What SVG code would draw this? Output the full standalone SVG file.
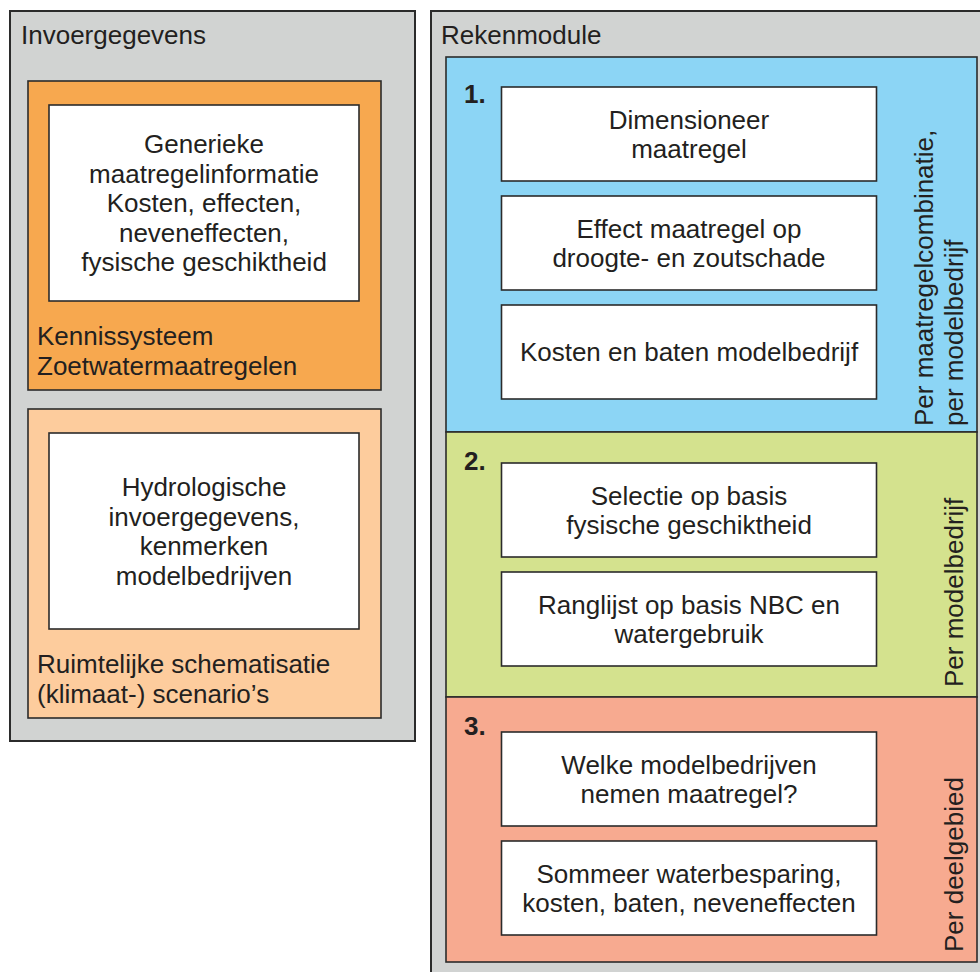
<svg xmlns="http://www.w3.org/2000/svg" width="980" height="972" viewBox="0 0 980 972">
<style>
text{font-family:"Liberation Sans",Arial,sans-serif;font-size:26px;fill:#231f20}
.c{text-anchor:middle}
.b{font-weight:bold}
.outer{fill:#d1d3d2;stroke:#2b2b2b;stroke-width:2}
.panel{stroke:#2b2b2b;stroke-width:1.6}
.box{fill:#ffffff;stroke:#2b2b2b;stroke-width:1.6}
</style>
<rect width="980" height="972" fill="#ffffff"/>

<g id="invoergegevens">
<rect class="outer" x="10" y="11" width="405" height="730"/>
<text x="21" y="44">Invoergegevens</text>
</g>

<g id="kennissysteem">
<rect class="panel" x="28" y="81" width="353" height="309" fill="#f7a84f"/>
<text x="37" y="345">Kennissysteem</text>
<text x="37" y="374.5">Zoetwatermaatregelen</text>
</g>
<g id="generieke">
<rect class="box" x="49" y="105" width="310" height="196"/>
<text class="c" x="204" y="153">Generieke</text>
<text class="c" x="204" y="182.5">maatregelinformatie</text>
<text class="c" x="204" y="212">Kosten, effecten,</text>
<text class="c" x="204" y="241.5">neveneffecten,</text>
<text class="c" x="204" y="271">fysische geschiktheid</text>
</g>

<g id="ruimtelijke">
<rect class="panel" x="28" y="409" width="353" height="309" fill="#fdcc9d"/>
<text x="37" y="673">Ruimtelijke schematisatie</text>
<text x="37" y="703">(klimaat-) scenario’s</text>
</g>
<g id="hydrologische">
<rect class="box" x="49" y="433" width="310" height="196"/>
<text class="c" x="204" y="496">Hydrologische</text>
<text class="c" x="204" y="525.5">invoergegevens,</text>
<text class="c" x="204" y="555">kenmerken</text>
<text class="c" x="204" y="584.5">modelbedrijven</text>
</g>

<g id="rekenmodule">
<rect class="outer" x="431" y="11" width="570" height="990"/>
<text x="441" y="44">Rekenmodule</text>
</g>

<g id="stap1">
<rect class="panel" x="446" y="57" width="531" height="375" fill="#8cd5f5"/>
<text class="b" x="464" y="103">1.</text>
<text transform="translate(933,426) rotate(-90)">Per maatregelcombinatie,</text>
<text transform="translate(963,426) rotate(-90)">per modelbedrijf</text>
</g>
<g id="dimensioneer">
<rect class="box" x="501.5" y="87" width="375" height="94"/>
<text class="c" x="689" y="128.5">Dimensioneer</text>
<text class="c" x="689" y="157.5">maatregel</text>
</g>
<g id="effect">
<rect class="box" x="501.5" y="196" width="375" height="94"/>
<text class="c" x="689" y="237.5">Effect maatregel op</text>
<text class="c" x="689" y="266.5">droogte- en zoutschade</text>
</g>
<g id="kosten">
<rect class="box" x="501.5" y="305" width="375" height="94"/>
<text class="c" x="689" y="361">Kosten en baten modelbedrijf</text>
</g>

<g id="stap2">
<rect class="panel" x="446" y="432" width="531" height="265" fill="#d4e28e"/>
<text class="b" x="464" y="470">2.</text>
<text transform="translate(963,687) rotate(-90)">Per modelbedrijf</text>
</g>
<g id="selectie">
<rect class="box" x="501.5" y="463" width="375" height="94"/>
<text class="c" x="689" y="504.5">Selectie op basis</text>
<text class="c" x="689" y="533.5">fysische geschiktheid</text>
</g>
<g id="ranglijst">
<rect class="box" x="501.5" y="572" width="375" height="94"/>
<text class="c" x="689" y="613.5">Ranglijst op basis NBC en</text>
<text class="c" x="689" y="642.5">watergebruik</text>
</g>

<g id="stap3">
<rect class="panel" x="446" y="697" width="531" height="265" fill="#f7aa90"/>
<text class="b" x="464" y="735">3.</text>
<text transform="translate(963,952) rotate(-90)">Per deelgebied</text>
</g>
<g id="welke">
<rect class="box" x="501.5" y="732" width="375" height="94"/>
<text class="c" x="689" y="773.5">Welke modelbedrijven</text>
<text class="c" x="689" y="802.5">nemen maatregel?</text>
</g>
<g id="sommeer">
<rect class="box" x="501.5" y="841" width="375" height="94"/>
<text class="c" x="689" y="882.5">Sommeer waterbesparing,</text>
<text class="c" x="689" y="911.5">kosten, baten, neveneffecten</text>
</g>
</svg>
